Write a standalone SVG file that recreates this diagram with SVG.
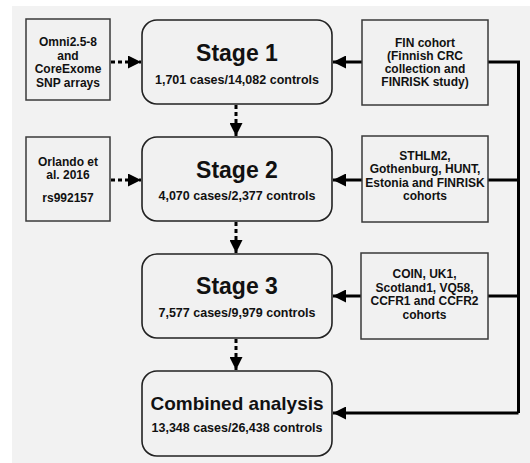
<svg xmlns="http://www.w3.org/2000/svg" width="530" height="463" viewBox="0 0 530 463">
<style>
text{font-family:"Liberation Sans",Arial,Helvetica,sans-serif;font-weight:bold;fill:#111;text-anchor:middle}
.src{fill:#f1f1f1;stroke:#3a3a3a;stroke-width:1.5}
.stage{fill:#f1f1f1;stroke:#222;stroke-width:1.6}
.t{font-size:23px}
.tc{font-size:19px}
.s{font-size:12.5px}
.b{font-size:12px}
.solid{fill:none;stroke:#000;stroke-width:3}
.dot{fill:none;stroke:#000;stroke-width:3;stroke-dasharray:4 3}
</style>
<defs>
<marker id="ah" markerUnits="userSpaceOnUse" markerWidth="14" markerHeight="13" refX="13" refY="6.5" orient="auto">
<path d="M0,0 L13,6.5 L0,13 Z" fill="#000"/>
</marker>
</defs>
<rect x="0" y="0" width="530" height="463" fill="#fff"/>
<rect x="12" y="6" width="518" height="457" fill="#f2f2f2"/>

<g id="connectors">
<line class="dot" x1="111" y1="62" x2="141" y2="62" marker-end="url(#ah)"/>
<line class="dot" x1="111" y1="180" x2="141" y2="180" marker-end="url(#ah)"/>
<line class="dot" x1="236" y1="105" x2="236" y2="136" marker-end="url(#ah)"/>
<line class="dot" x1="236" y1="222" x2="236" y2="253" marker-end="url(#ah)"/>
<line class="dot" x1="236" y1="339" x2="236" y2="370" marker-end="url(#ah)"/>
<line class="solid" x1="362" y1="62" x2="333" y2="62" marker-end="url(#ah)"/>
<line class="solid" x1="362" y1="180" x2="333" y2="180" marker-end="url(#ah)"/>
<line class="solid" x1="361" y1="296" x2="333" y2="296" marker-end="url(#ah)"/>
<path class="solid" d="M488,62 H518.5 V413"/>
<path class="solid" d="M488,180 H518.5"/>
<path class="solid" d="M488,296 H518.5"/>
<path class="solid" d="M518.5,413 H333" marker-end="url(#ah)"/>
</g>

<g id="omni">
<rect class="src" x="26" y="19" width="84" height="81"/>
<text class="b" x="68" y="46">Omni2.5-8</text>
<text class="b" x="68" y="59.5">and</text>
<text class="b" x="68" y="73">CoreExome</text>
<text class="b" x="68" y="86.5">SNP arrays</text>
</g>

<g id="orlando">
<rect class="src" x="26" y="137" width="84" height="84"/>
<text class="b" x="68" y="165.5">Orlando et</text>
<text class="b" x="68" y="178.5">al. 2016</text>
<text class="b" x="68" y="201.5">rs992157</text>
</g>

<g id="stage1">
<rect class="stage" x="142" y="20" width="190" height="84" rx="15"/>
<text class="t" x="237" y="61">Stage 1</text>
<text class="s" x="237" y="84">1,701 cases/14,082 controls</text>
</g>

<g id="stage2">
<rect class="stage" x="142" y="137" width="190" height="84" rx="15"/>
<text class="t" x="237" y="178">Stage 2</text>
<text class="s" x="237" y="200">4,070 cases/2,377 controls</text>
</g>

<g id="stage3">
<rect class="stage" x="142" y="254" width="190" height="84" rx="15"/>
<text class="t" x="237" y="294">Stage 3</text>
<text class="s" x="237" y="317">7,577 cases/9,979 controls</text>
</g>

<g id="combined">
<rect class="stage" x="142" y="371" width="190" height="85" rx="15"/>
<text class="tc" x="237" y="410">Combined analysis</text>
<text class="s" x="237" y="432">13,348 cases/26,438 controls</text>
</g>

<g id="fin">
<rect class="src" x="362" y="20" width="126" height="85"/>
<text class="b" x="425" y="46.5">FIN cohort</text>
<text class="b" x="425" y="59.5">(Finnish CRC</text>
<text class="b" x="425" y="72.5">collection and</text>
<text class="b" x="425" y="85.5">FINRISK study)</text>
</g>

<g id="sthlm">
<rect class="src" x="362" y="136" width="126" height="86"/>
<text class="b" x="425" y="159.5">STHLM2,</text>
<text class="b" x="425" y="173">Gothenburg, HUNT,</text>
<text class="b" x="425" y="186.5">Estonia and FINRISK</text>
<text class="b" x="425" y="200">cohorts</text>
</g>

<g id="coin">
<rect class="src" x="361" y="253" width="127" height="86"/>
<text class="b" x="424.5" y="278">COIN, UK1,</text>
<text class="b" x="424.5" y="291.5">Scotland1, VQ58,</text>
<text class="b" x="424.5" y="305">CCFR1 and CCFR2</text>
<text class="b" x="424.5" y="318.5">cohorts</text>
</g>
</svg>
